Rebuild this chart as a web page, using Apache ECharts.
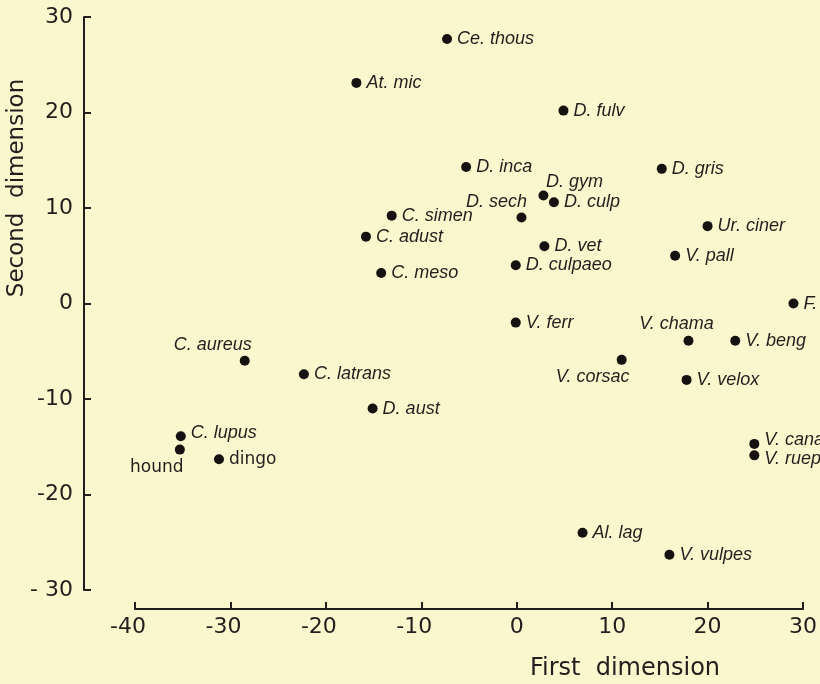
<!DOCTYPE html>
<html>
<head>
<meta charset="utf-8">
<script src="https://cdn.jsdelivr.net/npm/echarts@6/dist/echarts.min.js"></script>
<style>
  html, body { margin: 0; padding: 0; background: #faf7ce; }
  #chart { width: 820px; height: 684px; }
</style>
</head>
<body>
<div id="chart"></div>
<script>
// Canid taxa placed on the first two ordination dimensions
const taxa = [
  'Ce. thous', 'At. mic', 'D. fulv', 'D. inca', 'D. gris', 'D. gym', 'D. culp',
  'D. sech', 'C. simen', 'Ur. ciner', 'C. adust', 'D. vet', 'V. pall', 'D. culpaeo',
  'C. meso', 'F. zerda', 'V. ferr', 'V. chama', 'V. beng', 'C. aureus', 'V. corsac',
  'C. latrans', 'V. velox', 'D. aust', 'C. lupus', 'V. cana', 'hound', 'V. ruepp',
  'dingo', 'Al. lag', 'V. vulpes'
];
const firstDimension = [
  -7.3, -16.8, 4.9, -5.3, 15.2, 2.8, 3.9,
  0.5, -13.1, 20.0, -15.8, 2.9, 16.6, -0.1,
  -14.2, 29.0, -0.1, 18.0, 22.9, -28.5, 11.0,
  -22.3, 17.8, -15.1, -35.2, 24.9, -35.3, 24.9,
  -31.2, 6.9, 16.0
];
const secondDimension = [
  27.7, 23.1, 20.2, 14.3, 14.1, 11.3, 10.6,
  9.0, 9.2, 8.1, 7.0, 6.0, 5.0, 4.0,
  3.2, 0.0, -2.0, -3.9, -3.9, -6.0, -5.9,
  -7.4, -8.0, -11.0, -13.9, -14.7, -15.3, -15.9,
  -16.3, -24.0, -26.3
];
// Domestic forms are set upright; species names in italics
const uprightNames = ['hound', 'dingo'];

const INK = '#221e1d';
const ITALIC_FONT = '"Liberation Sans", Arial, sans-serif';
const PLAIN_FONT = '"DejaVu Sans", sans-serif';

// Labels that do not sit to the right of their point (centre offset in px)
const labelShift = {
  'D. sech':   [-25, -16],
  'D. gym':    [31, -14],
  'V. chama':  [-12, -17],
  'C. aureus': [-32, -16],
  'V. corsac': [-29, 17],
  'hound':     [-23, 18]
};
const rightNudge = {
  'V. cana':  [0, -4],
  'V. ruepp': [0, 4],
  'C. lupus': [0, -3]
};

const points = taxa.map((name, i) => {
  const upright = uprightNames.indexOf(name) >= 0;
  const label = {
    show: true,
    formatter: name,
    color: INK,
    opacity: 1,
    fontSize: upright ? 17 : 18,
    fontStyle: upright ? 'normal' : 'italic',
    fontFamily: upright ? PLAIN_FONT : ITALIC_FONT
  };
  if (labelShift[name]) {
    label.position = 'inside';
    label.align = 'center';
    label.verticalAlign = 'middle';
    label.offset = labelShift[name];
  } else {
    label.position = 'right';
    label.distance = 5;
    if (rightNudge[name]) label.offset = rightNudge[name];
  }
  return { name: name, value: [firstDimension[i], secondDimension[i]], label: label };
});

const chart = echarts.init(document.getElementById('chart'), null, { renderer: 'canvas' });

const axisCommon = {
  type: 'value',
  interval: 10,
  splitLine: { show: false },
  axisLine: { show: true, onZero: false, lineStyle: { color: INK, width: 2 } },
  axisTick: { show: true, inside: true, length: 7, lineStyle: { color: INK, width: 2 } }
};

chart.setOption({
  backgroundColor: '#faf7ce',
  animation: false,
  grid: { left: 135, right: 8, top: 17, bottom: 94, containLabel: false },
  xAxis: Object.assign({}, axisCommon, {
    min: -40, max: 30,
    position: 'bottom',
    offset: 19,
    axisLabel: {
      color: INK, fontSize: 22, fontFamily: PLAIN_FONT, margin: 7,
      formatter: v => (v < 0 ? v + '\u2007' : String(v))
    }
  }),
  yAxis: Object.assign({}, axisCommon, {
    min: -30, max: 30,
    position: 'left',
    offset: 51,
    axisLabel: {
      color: INK, fontSize: 22, fontFamily: PLAIN_FONT, margin: 11,
      formatter: v => (v === -30 ? '- 30' : String(v))
    }
  }),
  series: [{
    type: 'scatter',
    symbol: 'circle',
    symbolSize: 10,
    clip: false,
    itemStyle: { color: '#151211', opacity: 1 },
    emphasis: { disabled: true },
    data: points
  }],
  graphic: [
    {
      type: 'text',
      x: 17, y: 188,
      rotation: Math.PI / 2,
      style: {
        text: 'Second  dimension',
        font: '23px "DejaVu Sans", sans-serif',
        fill: INK,
        textAlign: 'center', textVerticalAlign: 'middle',
        align: 'center', verticalAlign: 'middle'
      }
    },
    {
      type: 'text',
      x: 625, y: 669,
      style: {
        text: 'First  dimension',
        font: '24px "DejaVu Sans", sans-serif',
        fill: INK,
        textAlign: 'center', textVerticalAlign: 'middle',
        align: 'center', verticalAlign: 'middle'
      }
    }
  ]
});
</script>
</body>
</html>
